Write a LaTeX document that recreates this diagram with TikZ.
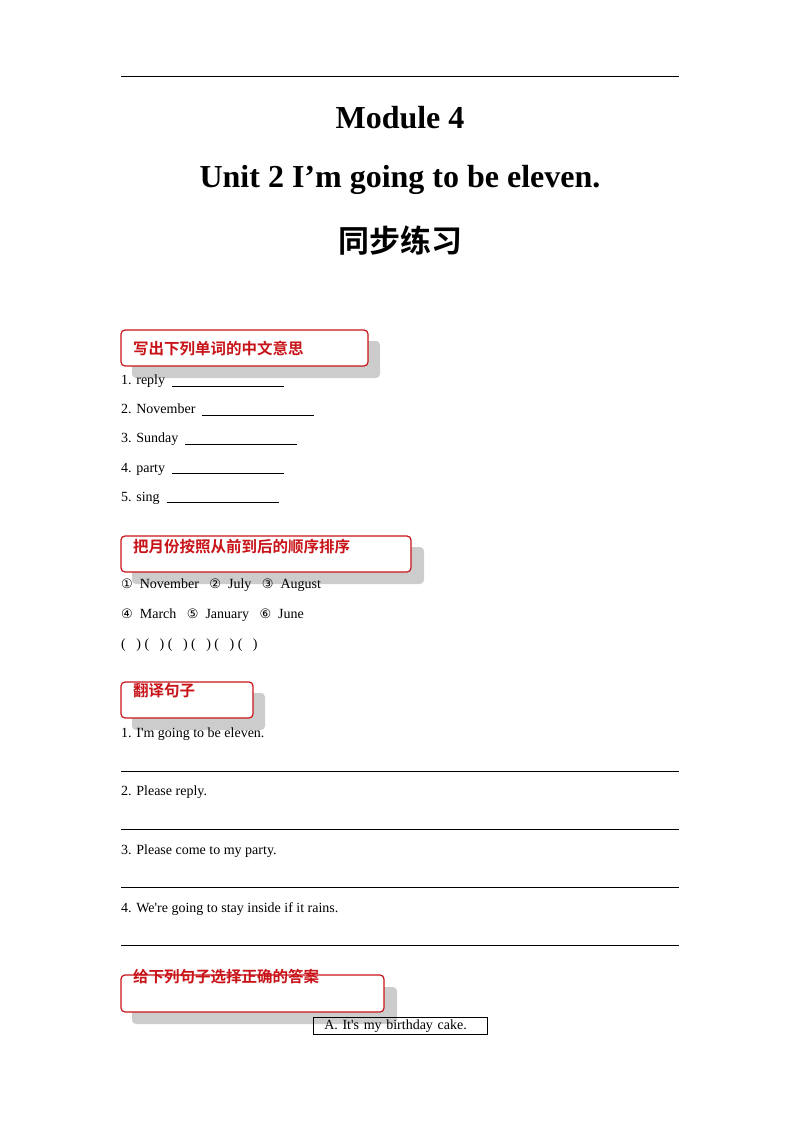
\documentclass[tikz,border=0pt]{standalone}
\usepackage{fontspec}
\setmainfont{Liberation Serif}
\newfontfamily\rmx{Liberation Serif}
\newfontfamily\cjkb{Noto Sans CJK SC Bold}
\newfontfamily\djv{DejaVu Sans}
\definecolor{hred}{RGB}{200,20,25}
\newcommand\circn[1]{{\djv\fontsize{13}{13}\selectfont #1}}
\begin{document}
\begin{tikzpicture}[x=1pt,y=-1pt,
  hbox/.style={draw=hred,line width=1.2pt,rounded corners=4pt},
  shad/.style={fill=black!20,rounded corners=4pt},
  htext/.style={anchor=west,text=hred,font=\cjkb\fontsize{15.5}{15.5}\selectfont,inner sep=0},
  item/.style={anchor=west,font=\rmx\fontsize{14}{14}\selectfont,inner sep=0},
  ttl/.style={font=\bfseries\fontsize{32}{32}\selectfont,inner sep=0}]
\useasboundingbox (0,0) rectangle (800,1132);
\draw[line width=0.8pt] (121,76) -- (679,76);
\node[ttl] (t1) at (400,118) {Module 4};
\node[ttl] (t2) at (400,180) {Unit 2 I’m going to be eleven.};
\node[ttl,font=\cjkb\fontsize{31}{31}\selectfont] (t3) at (400,241) {同步练习};
% section 1
\fill[shad] (132,341) rectangle (380,378);
\draw[hbox,fill=white] (121,330) rectangle (368,366);
\node[htext] (h1) at (133,349) {写出下列单词的中文意思};
\node[item] (a1) at (121,381) {1. reply \ \underline{\hspace{112pt}}};
\node[item] (a2) at (121,410) {2. November \ \underline{\hspace{112pt}}};
\node[item] (a3) at (121,439) {3. Sunday \ \underline{\hspace{112pt}}};
\node[item] (a4) at (121,469) {4. party \ \underline{\hspace{112pt}}};
\node[item] (a5) at (121,498) {5. sing \ \underline{\hspace{112pt}}};
% section 2
\fill[shad] (132,547) rectangle (424,584);
\draw[hbox,fill=white] (121,536) rectangle (411,572);
\node[htext] (h2) at (133,547) {把月份按照从前到后的顺序排序};
\node[item] (b1) at (121,585) {\circn{①}\ \ November\ \ \ \circn{②}\ \ July\ \ \ \circn{③}\ \ August};
\node[item] (b2) at (121,615) {\circn{④}\ \ March\ \ \ \circn{⑤}\ \ January\ \ \ \circn{⑥}\ \ June};
\node[item] (b3) at (121,645) {(\ \ \ )\ (\ \ \ )\ (\ \ \ )\ (\ \ \ )\ (\ \ \ )\ (\ \ \ )};
% section 3
\fill[shad] (132,693) rectangle (265,730);
\draw[hbox,fill=white] (121,682) rectangle (253,718);
\node[htext] (h3) at (133,691) {翻译句子};
\node[item] (c1) at (121,734) {1. I'm going to be eleven.};
\node[item] (c2) at (121,792) {2. Please reply.};
\node[item] (c3) at (121,851) {3. Please come to my party.};
\node[item] (c4) at (121,909) {4. We're going to stay inside if it rains.};
\foreach \y in {771,829,887,945} \draw[line width=0.6pt] (121,\y) -- (679,\y);
% section 4
\fill[shad] (132,987) rectangle (397,1024);
\draw[hbox,fill=white] (121,975) rectangle (384,1012);
\node[htext] (h4) at (133,977) {给下列句子选择正确的答案};
\node[draw,line width=0.6pt,minimum width=174pt,minimum height=17pt,inner sep=0,font=\rmx\fontsize{14}{14}\selectfont,anchor=north west,text width=164pt,align=left] (ans) at (313,1017) {\hspace*{6pt}A. It's my birthday cake.};
\end{tikzpicture}
\end{document}
